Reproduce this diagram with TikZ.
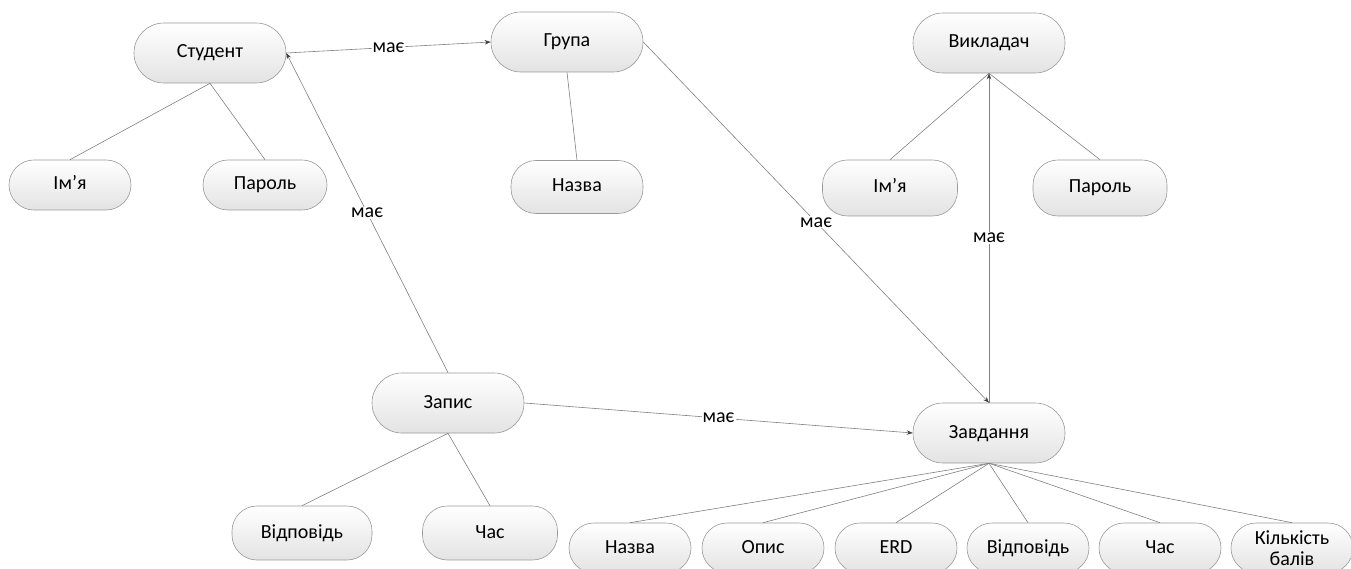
\documentclass[tikz,border=0pt]{standalone}
\usepackage{fontspec}
\setmainfont{Carlito}
\usetikzlibrary{arrows.meta,positioning}

\begin{document}
\begin{tikzpicture}[x=1pt,y=-1pt,
  box/.style={draw=gray!80, top color=white, bottom color=gray!22,
    line width=0.6pt, inner sep=0pt, align=center,
    font=\fontsize{20}{21}\selectfont},
  oneline/.style={text height=14pt, text depth=4pt},
  ent/.style={box, oneline, minimum width=152pt, minimum height=60pt, rounded corners=30pt},
  attr/.style={box, oneline, minimum width=122pt, minimum height=50pt, rounded corners=25pt},
  conn/.style={draw=gray, line width=0.6pt},
  hasarr/.style={conn, -{Stealth[length=6pt,width=4.5pt,color=black!75]}},
  lbl/.style={fill=white, inner sep=1pt, font=\fontsize{20}{21}\selectfont}]
  \useasboundingbox (0,0) rectangle (1351,569);
  % entities
  \node[ent] (stud) at (210,53) {Студент};
  \node[ent] (grupa) at (567,42) {Група};
  \node[ent] (vykl) at (989,43) {Викладач};
  \node[ent] (zapys) at (448,403) {Запис};
  \node[ent] (zavd) at (989,433) {Завдання};
  % attributes
  \node[attr] (imya) at (70,185) {Ім’я};
  \node[attr, minimum width=124pt] (parol) at (265,185) {Пароль};
  \node[attr, minimum width=132pt, minimum height=53pt] (nazva) at (577,187) {Назва};
  \node[attr, minimum width=135pt, minimum height=56pt] (imya2) at (890,188) {Ім’я};
  \node[attr, minimum width=134pt, minimum height=56pt] (parol2) at (1100,188) {Пароль};
  \node[attr, minimum width=140pt, minimum height=54pt] (vidp) at (302,533) {Відповідь};
  \node[attr, minimum width=135pt, minimum height=54pt] (chas) at (490,533) {Час};
  \node[attr] (znazva) at (630,548) {Назва};
  \node[attr] (opys) at (763,548) {Опис};
  \node[attr] (erd) at (896,548) {ERD};
  \node[attr] (zvidp) at (1028,548) {Відповідь};
  \node[attr] (zchas) at (1160,548) {Час};
  \node[box, minimum width=122pt, minimum height=50pt, rounded corners=25pt]
    (bal) at (1292,548) {Кількість\\балів};
  % attribute links
  \draw[conn] (stud.south) -- (imya.north);
  \draw[conn] (stud.south) -- (parol.north);
  \draw[conn] (grupa.south) -- (nazva.north);
  \draw[conn] (vykl.south) -- (imya2.north);
  \draw[conn] (vykl.south) -- (parol2.north);
  \draw[conn] (zapys.south) -- (vidp.north);
  \draw[conn] (zapys.south) -- (chas.north);
  \foreach \a in {znazva,opys,erd,zvidp,zchas,bal}
    \draw[conn] (zavd.south) -- (\a.north);
  % relations
  \draw[hasarr] (stud.east) -- node[lbl]{має} (grupa.west);
  \draw[hasarr] (zapys.north) -- node[lbl]{має} (stud.east);
  \draw[hasarr] (grupa.east) -- node[lbl]{має} (zavd.north);
  \draw[hasarr] (zavd.north) -- node[lbl]{має} (vykl.south);
  \draw[hasarr] (zapys.east) -- node[lbl]{має} (zavd.west);
\end{tikzpicture}
\end{document}
